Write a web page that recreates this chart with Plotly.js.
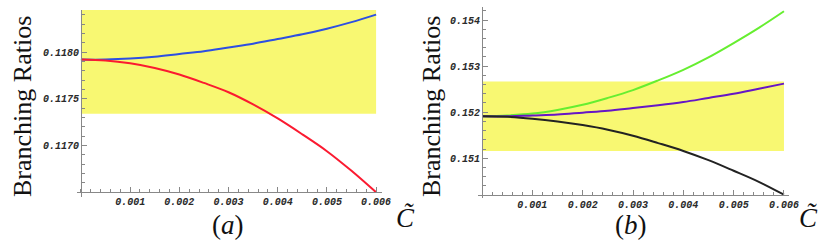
<!DOCTYPE html>
<html>
<head>
<meta charset="utf-8">
<script src="https://cdn.plot.ly/plotly-3.0.1.min.js"></script>
<style>html,body{margin:0;padding:0;background:#fff;}#chart{width:822px;height:245px;}</style>
</head>
<body>
<div id="chart"></div>
<script>
// ---- data ----
const cTilde = [0, 0.0005, 0.001, 0.0015, 0.002, 0.0025, 0.003, 0.0035, 0.004, 0.0045, 0.005, 0.0055, 0.006];
// panel (a)
const blueA = [0.11792, 0.11792, 0.11793, 0.11795, 0.11798, 0.11801, 0.11805, 0.11809, 0.11814, 0.11819, 0.11825, 0.11832, 0.11840];
const redA  = [0.11792, 0.11791, 0.11788, 0.11783, 0.11776, 0.11767, 0.11757, 0.11744, 0.11729, 0.11712, 0.11694, 0.11673, 0.11650];
const bandA = [0.11734, 0.11845];
const yTicksA = [0.1170, 0.1175, 0.1180];
// panel (b)
const greenB  = [0.15191, 0.15193, 0.15197, 0.15205, 0.15216, 0.15231, 0.15248, 0.15269, 0.15292, 0.15319, 0.15350, 0.15383, 0.15419];
const purpleB = [0.15191, 0.15191, 0.15193, 0.15195, 0.15199, 0.15203, 0.15209, 0.15215, 0.15222, 0.15231, 0.15240, 0.15251, 0.15262];
const blackB  = [0.15191, 0.15190, 0.15186, 0.15180, 0.15172, 0.15162, 0.15149, 0.15133, 0.15116, 0.15096, 0.15073, 0.15049, 0.15021];
const bandB = [0.15116, 0.152665];
const yTicksB = [0.151, 0.152, 0.153, 0.154];
const xTicks = [0.001, 0.002, 0.003, 0.004, 0.005, 0.006];
const xLabels = ["0.001", "0.002", "0.003", "0.004", "0.005", "0.006"];
const yLabelsA = ["0.1170", "0.1175", "0.1180"];
const yLabelsB = ["0.151", "0.152", "0.153", "0.154"];

// ---- geometry ----
const W = 822, H = 245;
const px = v => v / W, py = v => (H - v) / H;
const tickFont = {family: "Liberation Mono, Courier New, monospace", size: 10, color: "#2a2a2a", style: "italic", weight: "bold"};
const axCol = "#888";

const xRangeA = [-0.00008, 0.00612], yRangeA = [0.11645, 0.11845];
const xRangeB = [-0.00008, 0.0061],  yRangeB = [0.150139, 0.154282];
const xDomA = [px(77), px(382)], yDomA = [py(197), py(10)];
const xDomB = [px(478), px(789)], yDomB = [py(198), py(7)];

function frac(v, r, d) { return d[0] + (v - r[0]) / (r[1] - r[0]) * (d[1] - d[0]); }

function xAxis(dom, rng, pos) {
  return {
    domain: dom, range: rng, anchor: "free", position: pos,
    showline: true, linecolor: axCol, linewidth: 1, showgrid: false, zeroline: false,
    tickmode: "array", tickvals: xTicks, ticktext: xLabels,
    ticks: "inside", ticklen: 5, tickcolor: axCol, tickwidth: 1,
    minor: {tickmode: "linear", tick0: 0, dtick: 0.0002, ticks: "inside", ticklen: 3, tickcolor: axCol, showgrid: false},
    tickfont: tickFont, fixedrange: true
  };
}
function yAxis(dom, rng, ticks, labels, dtickMinor, pos) {
  return {
    domain: dom, range: rng, anchor: "free", position: pos,
    showline: true, linecolor: axCol, linewidth: 1, showgrid: false, zeroline: false,
    tickmode: "array", tickvals: ticks, ticktext: labels,
    ticks: "inside", ticklen: 5, tickcolor: axCol, tickwidth: 1,
    minor: {tickmode: "linear", tick0: ticks[0], dtick: dtickMinor, ticks: "inside", ticklen: 3, tickcolor: axCol, showgrid: false},
    tickfont: tickFont, fixedrange: true
  };
}

const traces = [
  {x: cTilde, y: blueA, xaxis: "x", yaxis: "y", mode: "lines", line: {color: "#2d4fe2", width: 2, shape: "spline"}, hoverinfo: "skip"},
  {x: cTilde, y: redA, xaxis: "x", yaxis: "y", mode: "lines", line: {color: "#fb1a30", width: 2, shape: "spline"}, hoverinfo: "skip"},
  {x: cTilde, y: greenB, xaxis: "x2", yaxis: "y2", mode: "lines", line: {color: "#66ee30", width: 2, shape: "spline"}, hoverinfo: "skip"},
  {x: cTilde, y: purpleB, xaxis: "x2", yaxis: "y2", mode: "lines", line: {color: "#6616c6", width: 2, shape: "spline"}, hoverinfo: "skip"},
  {x: cTilde, y: blackB, xaxis: "x2", yaxis: "y2", mode: "lines", line: {color: "#222222", width: 2, shape: "spline"}, hoverinfo: "skip"}
];

const serif = "Liberation Serif, Times New Roman, serif";
const layout = {
  width: W, height: H, margin: {l: 0, r: 0, t: 0, b: 0},
  paper_bgcolor: "#fff", plot_bgcolor: "rgba(0,0,0,0)", showlegend: false,
  xaxis: xAxis(xDomA, xRangeA, frac(redA[12], yRangeA, yDomA)),
  yaxis: yAxis(yDomA, yRangeA, yTicksA, yLabelsA, 0.0001, frac(0, xRangeA, xDomA)),
  xaxis2: xAxis(xDomB, xRangeB, frac(blackB[12], yRangeB, yDomB)),
  yaxis2: yAxis(yDomB, yRangeB, yTicksB, yLabelsB, 0.0002, frac(0, xRangeB, xDomB)),
  shapes: [
    {type: "rect", xref: "x", yref: "y", x0: cTilde[0], x1: cTilde[12], y0: bandA[0], y1: bandA[1], fillcolor: "#f8f872", line: {width: 0}, layer: "below"},
    {type: "rect", xref: "x2", yref: "y2", x0: cTilde[0], x1: cTilde[12], y0: bandB[0], y1: bandB[1], fillcolor: "#f8f872", line: {width: 0}, layer: "below"}
  ],
  annotations: [
    {text: "Branching Ratios", xref: "paper", yref: "paper", x: px(22), y: py(107), showarrow: false, textangle: -90, font: {family: serif, size: 26, color: "#111"}, xanchor: "center", yanchor: "middle"},
    {text: "Branching Ratios", xref: "paper", yref: "paper", x: px(431), y: py(107), showarrow: false, textangle: -90, font: {family: serif, size: 26, color: "#111"}, xanchor: "center", yanchor: "middle"},
    {text: "(<i>a</i>)", xref: "paper", yref: "paper", x: px(228), y: py(225), showarrow: false, font: {family: serif, size: 27, color: "#111"}, xanchor: "center", yanchor: "middle"},
    {text: "(<i>b</i>)", xref: "paper", yref: "paper", x: px(631), y: py(225), showarrow: false, font: {family: serif, size: 27, color: "#111"}, xanchor: "center", yanchor: "middle"},
    {text: "<i>C\u0303</i>", xref: "paper", yref: "paper", x: px(405), y: py(218), showarrow: false, font: {family: serif, size: 27, color: "#111"}, xanchor: "center", yanchor: "middle"},
    {text: "<i>C\u0303</i>", xref: "paper", yref: "paper", x: px(808), y: py(218), showarrow: false, font: {family: serif, size: 27, color: "#111"}, xanchor: "center", yanchor: "middle"}
  ]
};

Plotly.newPlot("chart", traces, layout, {staticPlot: true, displayModeBar: false});
</script>
</body>
</html>
